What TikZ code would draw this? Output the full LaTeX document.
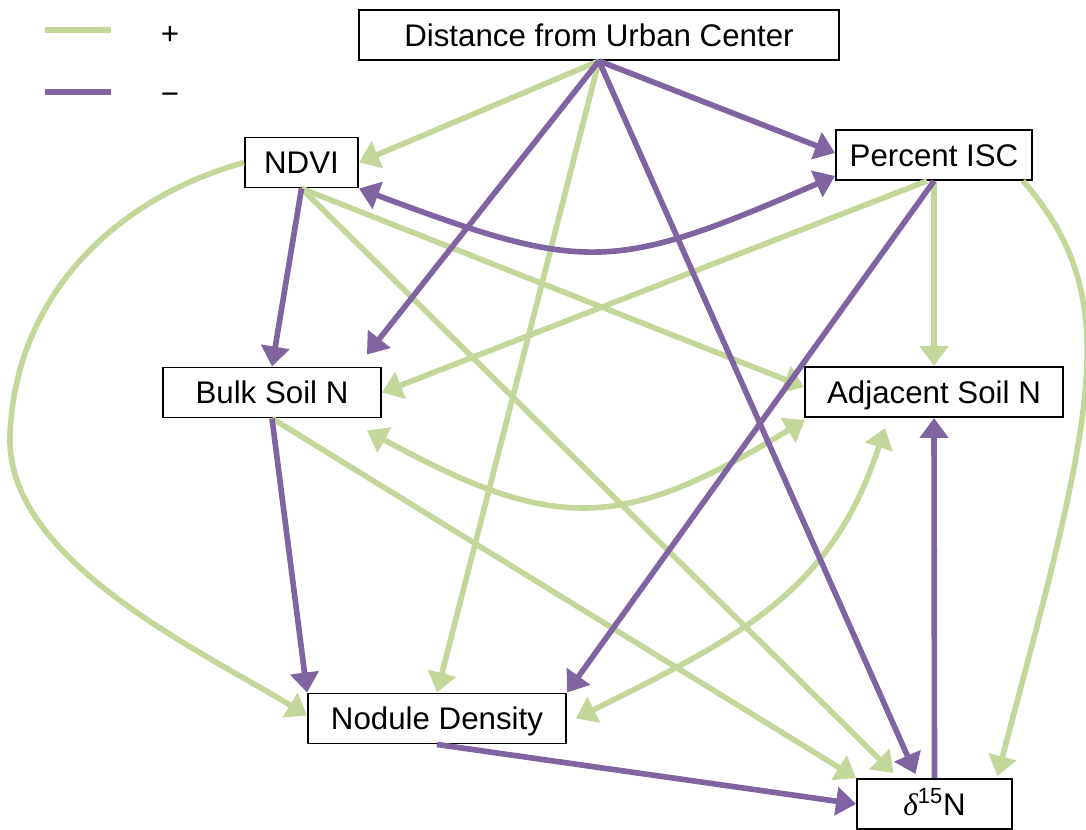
\documentclass[tikz,border=0pt]{standalone}
\usepackage{fontspec}
\setmainfont{Liberation Sans}
\newfontfamily\deltafont{Liberation Serif}
\usetikzlibrary{arrows.meta,calc}
\definecolor{posgreen}{RGB}{196,215,155}
\definecolor{negpurple}{RGB}{128,100,162}
\begin{document}
\begin{tikzpicture}[
        x=0.02cm, y=-0.02cm,
        >={Triangle[length=0.4cm,width=0.56cm]},
        var/.style={
            rectangle,
            draw=black,
            line width=1.1pt,
            fill=white,
            minimum height=1cm,
            inner sep=0pt,
            text height=0.44cm,
            text depth=0cm,
            font=\fontsize{17.8}{20}\selectfont
        },
        legend/.style={inner sep=0pt, font=\fontsize{17.8}{20}\selectfont},
        posline/.style={->, draw=posgreen, line width=3.2pt},
        negline/.style={->, draw=negpurple, line width=3.2pt}
    ]
    \useasboundingbox (0,0) rectangle (1086,829);

    % Legend
    \coordinate (pstart) at (45,30);
    \coordinate (pend) at (111,30);
    \coordinate (nstart) at (45,92);
    \coordinate (nend) at (111,92);
    \draw[draw=posgreen, line width=3.4pt] (pstart) -- (pend);
    \draw[draw=negpurple, line width=3.4pt] (nstart) -- (nend);
    \node[legend] (plus) at (170,35) {+};
    \node[legend] (minus) at (170,99) {−};

    % Variables
    \node[var, minimum width=9.6cm] (dist) at (599,35) {Distance from Urban Center};
    \node[var, minimum width=2.26cm] (ndvi) at (301.5,162.5) {NDVI};
    \node[var, minimum width=3.92cm] (isc) at (934,155) {Percent ISC};
    \node[var, minimum width=4.36cm] (bulk) at (272,392.5) {Bulk Soil N};
    \node[var, minimum width=5.16cm] (adj) at (934,392) {Adjacent Soil N};
    \node[var, minimum width=5.16cm] (nod) at (437,718.5) {Nodule Density};
    \node[var, minimum width=3.1cm] (del) at (934.5,804) {{\deltafont\itshape δ}\textsuperscript{15}N};

    % Positive paths
    \draw[posline] (dist.south) -- (ndvi.east);
    \draw[posline] (dist.south) -- (nod.north);
    \draw[posline] (ndvi.west) .. controls (110,200) and (15,300) .. (10,435) .. controls (5,560) and (200,650) .. ($(nod.west)+(0,-3)$);
    \draw[posline] (ndvi.south) -- ($(adj.west)+(0,-5)$);
    \draw[posline] (ndvi.south) -- ($(del.north)+(-41,-5)$);
    \draw[posline] ($(isc.south)+(-7,0)$) -- (bulk.east);
    \draw[posline] (isc.south) -- (adj.north);
    \draw[posline] ($(isc.south east)+(-10,0)$) .. controls (1075,240) and (1092,300) .. (1086,380) .. controls (1080,480) and (1030,650) .. ($(del.north)+(63,-2)$);
    \draw[posline,<->] ($(bulk.south east)+(-15,12)$) to[bend right=30, looseness=1.25] ($(adj.south west)+(1,2)$);
    \draw[posline,<->] ($(nod.east)+(9,0)$) .. controls (746,634) and (832,590) .. ($(adj.south)+(-49,10)$);
    \draw[posline] (bulk.south) -- (del.north west);

    % Negative paths
    \draw[negline] (dist.south) -- ($(isc.west)+(0,-2)$);
    \draw[negline] (dist.south) -- ($(bulk.north east)+(-15,-12)$);
    \draw[negline] (dist.south) -- ($(del.north)+(-19,-4)$);
    \draw[negline,<->] (ndvi.south east) to[bend right=22, looseness=1.3] ($(isc.south west)+(0,-5)$);
    \draw[negline] (ndvi.south) -- (bulk.north);
    \draw[negline] (isc.south) -- (nod.north east);
    \draw[negline] (bulk.south) -- (nod.north west);
    \draw[negline] (nod.south) -- (del.west);
    \draw[negline] (del.north) -- (adj.south);
\end{tikzpicture}
\end{document}
